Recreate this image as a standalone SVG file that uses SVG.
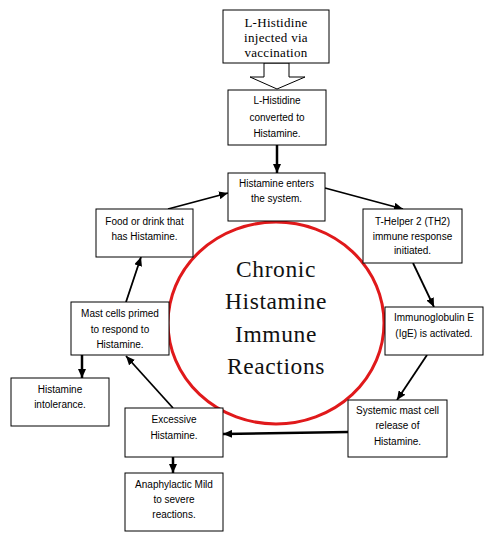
<svg xmlns="http://www.w3.org/2000/svg" width="499" height="544" viewBox="0 0 499 544">
<defs>
<style>
.box{fill:#fff;stroke:#000;stroke-width:1}
.t{font-family:"Liberation Sans",Arial,sans-serif;font-size:10px;fill:#000;text-anchor:middle}
.ts{font-family:"Liberation Serif","Times New Roman",serif;font-size:13px;fill:#000;text-anchor:middle;letter-spacing:0.3px}
.big{font-family:"Liberation Serif","Times New Roman",serif;font-size:23.5px;fill:#111;text-anchor:middle;letter-spacing:0.6px}
.c{fill:none;stroke:#000;stroke-width:1.8;marker-end:url(#ah)}
.cv{fill:none;stroke:#000;stroke-width:2.5;marker-end:url(#ah)}
</style>
<marker id="ah" markerUnits="userSpaceOnUse" markerWidth="10" markerHeight="8" refX="9" refY="4" orient="auto">
<path d="M0,0 L9,4 L0,8 z" fill="#000"/>
</marker>
</defs>
<rect width="499" height="544" fill="#fff"/>
<ellipse cx="276" cy="323" rx="108" ry="101" fill="none" stroke="#e0191b" stroke-width="3"/>
<g id="title">
<text class="big" x="276" y="277">Chronic</text>
<text class="big" x="276" y="309">Histamine</text>
<text class="big" x="276" y="342">Immune</text>
<text class="big" x="276" y="374">Reactions</text>
</g>
<g id="connectors">
<polygon points="264,63 264,77 250,77 277,89 305,77 289,77 289,63" fill="#fff" stroke="#000" stroke-width="1"/>
<line class="cv" x1="277" y1="145" x2="277" y2="173"/>
<line class="c" x1="325" y1="188" x2="403" y2="209"/>
<line class="c" x1="413" y1="263" x2="434" y2="307"/>
<line class="c" x1="427" y1="355" x2="397" y2="400"/>
<line class="cv" x1="348" y1="432" x2="223" y2="434"/>
<line class="c" x1="173" y1="408" x2="126" y2="356"/>
<line class="c" x1="126" y1="302" x2="141" y2="257"/>
<line class="c" x1="168" y1="209" x2="228" y2="193"/>
<line class="cv" x1="82" y1="355" x2="82" y2="378"/>
<line class="cv" x1="173" y1="457" x2="173" y2="473"/>
</g>
<g id="n1">
<rect class="box" x="223" y="10" width="106" height="53"/>
<text class="ts" x="276" y="27">L-Histidine</text>
<text class="ts" x="276" y="42">injected via</text>
<text class="ts" x="276" y="57">vaccination</text>
</g>
<g id="n2">
<rect class="box" x="228" y="90" width="98" height="55"/>
<text class="t" x="277" y="104">L-Histidine</text>
<text class="t" x="277" y="121">converted to</text>
<text class="t" x="277" y="137">Histamine.</text>
</g>
<g id="n3">
<rect class="box" x="228" y="173" width="97" height="48"/>
<text class="t" x="276.5" y="187">Histamine enters</text>
<text class="t" x="276.5" y="202">the system.</text>
</g>
<g id="n4">
<rect class="box" x="363" y="209" width="99" height="54"/>
<text class="t" x="412.5" y="225">T-Helper 2 (TH2)</text>
<text class="t" x="412.5" y="240">immune response</text>
<text class="t" x="412.5" y="254">initiated.</text>
</g>
<g id="n5">
<rect class="box" x="385" y="307" width="98" height="48"/>
<text class="t" x="434" y="321">Immunoglobulin E</text>
<text class="t" x="434" y="337">(IgE) is activated.</text>
</g>
<g id="n6">
<rect class="box" x="348" y="400" width="99" height="57"/>
<text class="t" x="397.5" y="414">Systemic mast cell</text>
<text class="t" x="397.5" y="429">release of</text>
<text class="t" x="397.5" y="445">Histamine.</text>
</g>
<g id="n7">
<rect class="box" x="125" y="408" width="98" height="49"/>
<text class="t" x="174" y="423">Excessive</text>
<text class="t" x="174" y="439">Histamine.</text>
</g>
<g id="n8">
<rect class="box" x="125" y="473" width="98" height="58"/>
<text class="t" x="174" y="488">Anaphylactic Mild</text>
<text class="t" x="174" y="503">to severe</text>
<text class="t" x="174" y="518">reactions.</text>
</g>
<g id="n9">
<rect class="box" x="11" y="378" width="98" height="48"/>
<text class="t" x="60" y="393">Histamine</text>
<text class="t" x="60" y="408">intolerance.</text>
</g>
<g id="n10">
<rect class="box" x="71" y="302" width="98" height="53"/>
<text class="t" x="120" y="317">Mast cells primed</text>
<text class="t" x="120" y="333">to respond to</text>
<text class="t" x="120" y="348">Histamine.</text>
</g>
<g id="n11">
<rect class="box" x="96" y="209" width="97" height="48"/>
<text class="t" x="144.5" y="225">Food or drink that</text>
<text class="t" x="144.5" y="240">has Histamine.</text>
</g>
</svg>
